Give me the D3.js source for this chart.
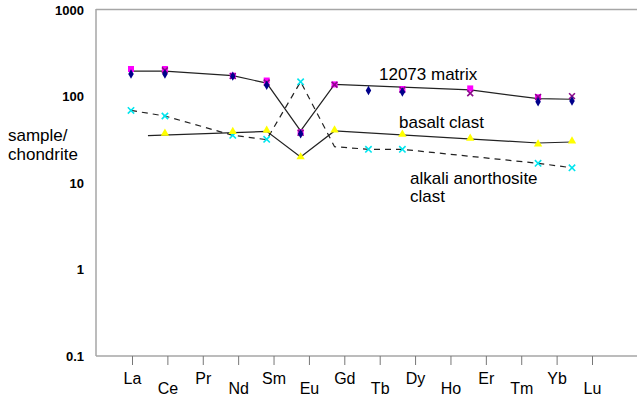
<!DOCTYPE html>
<html>
<head>
<meta charset="utf-8">
<script src="https://cdn.jsdelivr.net/npm/d3@7"></script>
<style>
  body { margin: 0; background: #fff; }
  svg { font-family: "Liberation Sans", Arial, sans-serif; }
</style>
</head>
<body>
<script>
// REE elements (category axis)
const elements = ["La", "Ce", "Pr", "Nd", "Sm", "Eu", "Gd", "Tb", "Dy", "Ho", "Er", "Tm", "Yb", "Lu"]
const yTicks = [0.1, 1, 10, 100, 1000]

// 12073 matrix, three analyses (null = not measured)
const matrixA = [208, 208, null, 174, 153, 38.5, 138, null, 122, null, 124, null, 98, null]
const matrixB = [182, 182, null, 172, 135, 37, null, 117, 113, null, null, null, 87, 88.5]
const matrixC = [null, 201, null, 172, 145, 38, 137, null, 120, null, 109, null, 99, 101]
// basalt clast
const basalt = [null, 37.6, null, 39.2, 40.7, 20, 41, null, 36.6, null, 32.8, null, 28.2, 30.6]
// alkali anorthosite clast
const alkali = [69, 59.5, null, 35.6, 32, 148, null, 24.5, 24.5, null, null, null, 16.9, 15]

// hand drawn trend lines: [element index, value]
const matrixLine = [[0, 196], [1, 196], [3, 174], [4, 143], [5, 40], [6, 138], [10, 119], [12, 94.5], [13, 93]]
const basaltLine = [[0.5, 35.2], [4, 39.5], [5, 20], [6, 40], [12, 29], [13, 29.8]]
const alkaliLine = [[0, 69], [1, 59.5], [3, 35.6], [4, 31.7], [5, 148], [6, 26.3], [7, 24.5], [8, 24.5], [12, 16.9], [13, 15]]

const W = 637, H = 398
const plotLeft = 96, plotTop = 10, plotBottom = 356

const svg = d3.select("body").append("svg")
    .attr("width", W)
    .attr("height", H)

// scales
const y = d3.scaleLog().domain([0.1, 1000]).range([plotBottom, plotTop])
const x = d3.scaleLinear().domain([0, 13]).range([131, 572])          // data positions
const xLab = d3.scalePoint().domain(elements).range([132, 592])       // label positions

// frame lines
const axisColor = "#a6a6a6"
svg.append("line").attr("x1", plotLeft).attr("x2", W).attr("y1", plotTop - 0.5).attr("y2", plotTop - 0.5)
    .attr("stroke", axisColor).attr("stroke-width", 1.5)
svg.append("line").attr("x1", plotLeft).attr("x2", plotLeft).attr("y1", plotTop - 1).attr("y2", plotBottom)
    .attr("stroke", axisColor).attr("stroke-width", 1.5)

// y axis labels (no tick marks)
svg.append("g").selectAll("text")
    .data(yTicks)
    .join("text")
        .attr("x", 84)
        .attr("y", d => y(d))
        .attr("dy", "0.35em")
        .attr("text-anchor", "end")
        .attr("font-size", 13)
        .attr("font-weight", "bold")
        .text(d => d3.format("~g")(d))

// x axis
const xAxis = svg.append("g")
    .attr("transform", "translate(0," + plotBottom + ")")
    .call(d3.axisBottom(xLab).tickSize(9).tickSizeOuter(0))
xAxis.select(".domain").attr("d", "M" + plotLeft + ",0H" + W).attr("stroke", axisColor).attr("stroke-width", 1.5)
xAxis.selectAll(".tick line").attr("stroke", "#777")
xAxis.selectAll(".tick text")
    .attr("font-size", 16)
    .attr("font-family", "Liberation Sans, Arial, sans-serif")
    .attr("fill", "#000")
    .attr("y", (d, i) => i % 2 ? 27 : 17)

// y title
const title = svg.append("text").attr("font-size", 17).attr("x", 8)
title.append("tspan").attr("x", 8).attr("y", 141).text("sample/")
title.append("tspan").attr("x", 8).attr("y", 160).text("chondrite")

// trend lines
const line = d3.line().x(d => x(d[0])).y(d => y(d[1]))
svg.append("path").attr("d", line(matrixLine)).attr("fill", "none").attr("stroke", "#222").attr("stroke-width", 1.2)
svg.append("path").attr("d", line(basaltLine)).attr("fill", "none").attr("stroke", "#222").attr("stroke-width", 1.2)
svg.append("path").attr("d", line(alkaliLine)).attr("fill", "none").attr("stroke", "#222").attr("stroke-width", 1.2)
    .attr("stroke-dasharray", "6,5")

// markers
function pts(arr) {
    return arr.map((v, i) => ({ i: i, v: v })).filter(d => d.v != null)
}
function markers(arr, type, size, fill, stroke) {
    const sym = d3.symbol().type(type).size(size)
    svg.append("g").selectAll("path")
        .data(pts(arr))
        .join("path")
            .attr("transform", d => "translate(" + x(d.i) + "," + y(d.v) + ")")
            .attr("d", sym)
            .attr("fill", fill)
            .attr("stroke", stroke)
            .attr("stroke-width", stroke == "none" ? 0 : 1.6)
}
markers(alkali, d3.symbolX, 28, "none", "#00e5ee")
markers(basalt, d3.symbolTriangle, 30, "#ffff00", "none")
markers(matrixA, d3.symbolSquare, 36, "#ff00ff", "none")
markers(matrixC, d3.symbolX, 24, "none", "#8b0a8b")
markers(matrixB, d3.symbolDiamond, 26, "#00008b", "none")

// annotations
const notes = [
    { t: "12073 matrix", x: 379, y: 80 },
    { t: "basalt clast", x: 399, y: 127.5 },
    { t: "alkali anorthosite", x: 410, y: 183.5 },
    { t: "clast", x: 410, y: 201.5 }
]
svg.append("g").selectAll("text")
    .data(notes)
    .join("text")
        .attr("x", d => d.x)
        .attr("y", d => d.y)
        .attr("font-size", 17)
        .text(d => d.t)
</script>
</body>
</html>
